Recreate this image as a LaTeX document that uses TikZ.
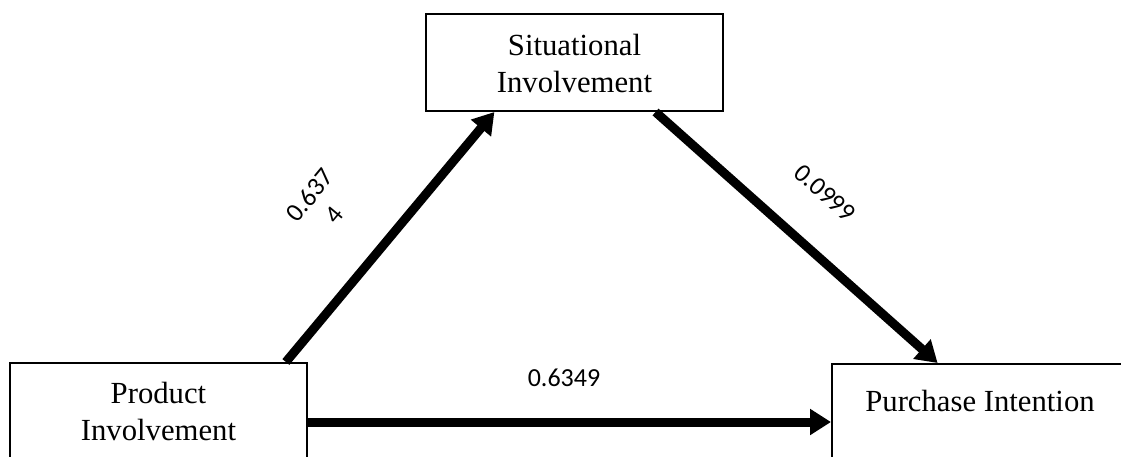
\documentclass[tikz,border=0pt]{standalone}
\usepackage{fontspec}
\setmainfont{Liberation Serif}
\newfontfamily\lblfont{Carlito}
\usetikzlibrary{arrows.meta,calc}
\tikzset{
  box/.style={draw=black, line width=2pt, fill=white, inner sep=0pt},
  boxtext/.style={font=\fontsize{30.7}{37}\selectfont, align=center, inner sep=0pt},
  arr/.style={line width=9pt, -{Triangle[length=21pt,width=25pt]}, shorten >=0pt},
  lbl/.style={font=\lblfont\fontsize{26}{32}\selectfont, align=center, inner sep=0pt}
}
\begin{document}
\begin{tikzpicture}[x=1pt,y=-1pt]
\useasboundingbox (0,0) rectangle (1121,456);
% boxes
\node[box, minimum width=297pt, minimum height=97pt] (sit) at (574.5,62.5) {};
\node[boxtext] (sittxt) at (574.5,63) {Situational\\Involvement};
\node[box, minimum width=297pt, minimum height=118pt] (prod) at (158.5,422) {};
\node[boxtext] (prodtxt) at (158.5,411.5) {Product\\Involvement};
\node[box, minimum width=300pt, minimum height=116pt] (pur) at (982,422) {};
\node[boxtext] (purtxt) at (980,401) {Purchase Intention};
% anchor points
\coordinate (p1) at ($(prod.north west)!0.926!(prod.north east)$);
\coordinate (s1) at ($(sit.south west)!0.232!(sit.south east)$);
\coordinate (s2) at ($(sit.south west)!0.771!(sit.south east)$);
\coordinate (u1) at ($(pur.north west)!0.353!(pur.north east)$);
% arrows
\draw[arr] (p1) -- (s1);
\draw[arr] (s2) -- (u1);
\draw[arr] (prod.east) -- (pur.west);
% labels
\node[lbl, rotate=50.3] (l1) at (322,205) {0.637\\4};
\node[lbl, rotate=-41.6] (l2) at (825,193) {0.0999};
\node[lbl] (l3) at (564,378) {0.6349};
\end{tikzpicture}
\end{document}
